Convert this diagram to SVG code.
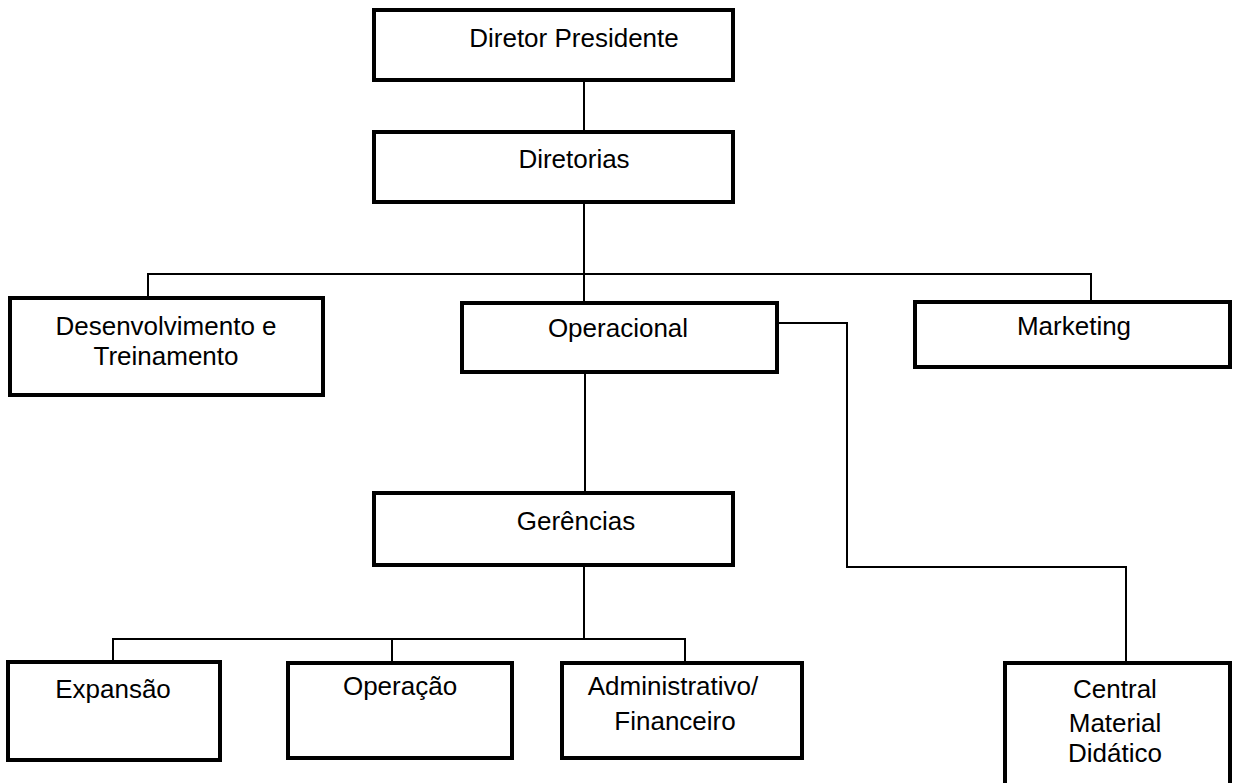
<svg xmlns="http://www.w3.org/2000/svg" width="1234" height="783" viewBox="0 0 1234 783">
<style>
.box{fill:#fff;stroke:#000;stroke-width:4}
.lbl{font-family:"Liberation Sans",Arial,sans-serif;font-size:26px;fill:#000;text-anchor:middle}
.conn{fill:none;stroke:#000;stroke-width:2}
</style>
<rect width="1234" height="783" fill="#fff"/>
<g id="connectors">
<path class="conn" d="M584 80V132"/>
<path class="conn" d="M584 202V303"/>
<path class="conn" d="M148 298V274H1091V302"/>
<path class="conn" d="M777 323H847V567H1126V663"/>
<path class="conn" d="M585 372V493"/>
<path class="conn" d="M584 565V639"/>
<path class="conn" d="M113 662V639H685V663"/>
<path class="conn" d="M392 639V663"/>
</g>
<g id="diretor-presidente">
<rect class="box" x="374" y="10" width="359" height="70"/>
<text class="lbl" x="574" y="47">Diretor Presidente</text>
</g>
<g id="diretorias">
<rect class="box" x="374" y="132" width="359" height="70"/>
<text class="lbl" x="574" y="168">Diretorias</text>
</g>
<g id="desenvolvimento">
<rect class="box" x="10" y="298" width="313" height="97"/>
<text class="lbl" x="166" y="335">Desenvolvimento e</text>
<text class="lbl" x="166" y="365">Treinamento</text>
</g>
<g id="operacional">
<rect class="box" x="462" y="303" width="315" height="69"/>
<text class="lbl" x="618" y="337">Operacional</text>
</g>
<g id="marketing">
<rect class="box" x="915" y="302" width="315" height="65"/>
<text class="lbl" x="1074" y="335">Marketing</text>
</g>
<g id="gerencias">
<rect class="box" x="374" y="493" width="359" height="72"/>
<text class="lbl" x="576" y="530">Gerências</text>
</g>
<g id="expansao">
<rect class="box" x="8" y="662" width="212" height="98"/>
<text class="lbl" x="113" y="698">Expansão</text>
</g>
<g id="operacao">
<rect class="box" x="288" y="663" width="224" height="95"/>
<text class="lbl" x="400" y="695">Operação</text>
</g>
<g id="administrativo">
<rect class="box" x="562" y="663" width="240" height="95"/>
<text class="lbl" x="673" y="695">Administrativo/</text>
<text class="lbl" x="675" y="730">Financeiro</text>
</g>
<g id="central">
<rect class="box" x="1005" y="663" width="225" height="130"/>
<text class="lbl" x="1115" y="698">Central</text>
<text class="lbl" x="1115" y="732">Material</text>
<text class="lbl" x="1115" y="762">Didático</text>
</g>
</svg>
